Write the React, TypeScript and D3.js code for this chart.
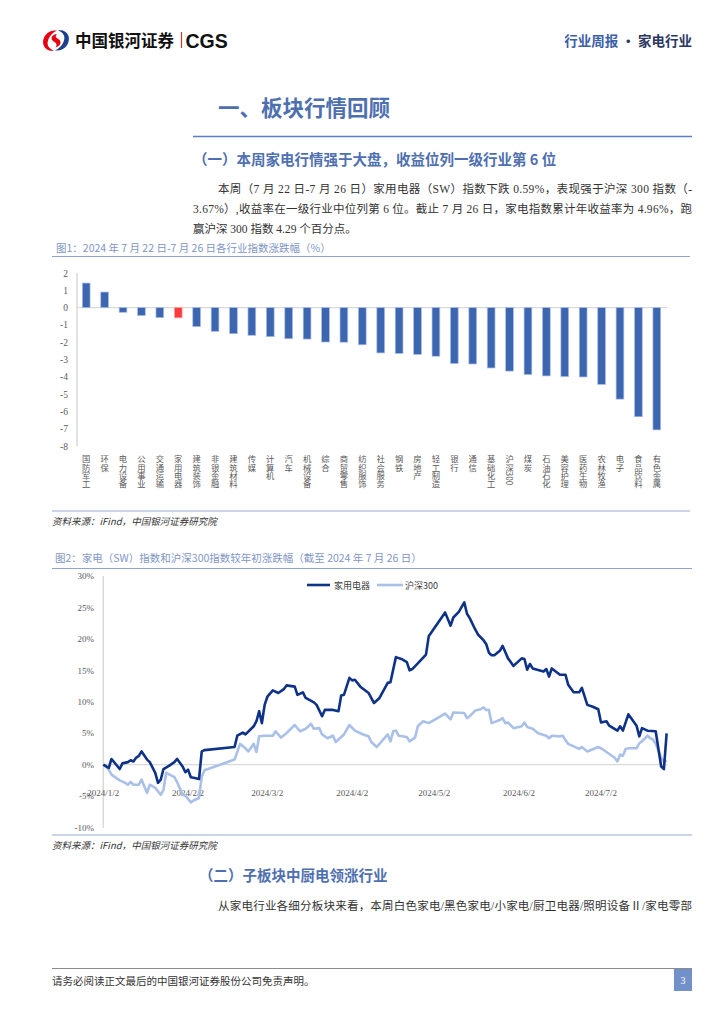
import React from "react";
import * as d3 from "d3";

// ---------- Chart 1 data ----------
const industries = [
  "国防军工", "环保", "电力设备", "公用事业", "交通运输", "家用电器", "建筑装饰", "非银金融",
  "建筑材料", "传媒", "计算机", "汽车", "机械设备", "综合", "商贸零售", "纺织服饰",
  "社会服务", "钢铁", "房地产", "轻工制造", "银行", "通信", "基础化工", "沪深300",
  "煤炭", "石油石化", "美容护理", "医药生物", "农林牧渔", "电子", "食品饮料", "有色金属",
];
const weeklyChange = [
  1.42, 0.9, -0.27, -0.46, -0.58, -0.59, -1.1, -1.37,
  -1.51, -1.6, -1.68, -1.8, -1.82, -1.99, -2.0, -2.15,
  -2.62, -2.65, -2.71, -2.81, -3.23, -3.26, -3.49, -3.67,
  -3.87, -3.95, -3.99, -4.01, -4.44, -5.29, -6.31, -7.07,
];
const highlight = "家用电器";
const yTicks1 = [2, 1, 0, -1, -2, -3, -4, -5, -6, -7, -8];

// ---------- Chart 2 data ----------
const jdDates = [
  "2024-01-02", "2024-01-04", "2024-01-05", "2024-01-08", "2024-01-09", "2024-01-11", "2024-01-12", "2024-01-13",
  "2024-01-14", "2024-01-15", "2024-01-16", "2024-01-18", "2024-01-19", "2024-01-21", "2024-01-22", "2024-01-23",
  "2024-01-24", "2024-01-26", "2024-01-28", "2024-01-29", "2024-01-31", "2024-02-01", "2024-02-02", "2024-02-03",
  "2024-02-04", "2024-02-06", "2024-02-07", "2024-02-08", "2024-02-19", "2024-02-20", "2024-02-22", "2024-02-23",
  "2024-02-26", "2024-02-27", "2024-02-28", "2024-02-29", "2024-03-01", "2024-03-02", "2024-03-04", "2024-03-06",
  "2024-03-08", "2024-03-09", "2024-03-12", "2024-03-13", "2024-03-15", "2024-03-16", "2024-03-19", "2024-03-20",
  "2024-03-22", "2024-03-23", "2024-03-26", "2024-03-28", "2024-03-29", "2024-03-30", "2024-04-01", "2024-04-02",
  "2024-04-03", "2024-04-05", "2024-04-08", "2024-04-10", "2024-04-12", "2024-04-15", "2024-04-16", "2024-04-18",
  "2024-04-20", "2024-04-22", "2024-04-23", "2024-04-24", "2024-04-26", "2024-04-29", "2024-04-30", "2024-05-06",
  "2024-05-08", "2024-05-09", "2024-05-11", "2024-05-13", "2024-05-14", "2024-05-15", "2024-05-17", "2024-05-18",
  "2024-05-20", "2024-05-21", "2024-05-22", "2024-05-23", "2024-05-24", "2024-05-26", "2024-05-27", "2024-05-29",
  "2024-05-31", "2024-06-03", "2024-06-04", "2024-06-05", "2024-06-06", "2024-06-07", "2024-06-11", "2024-06-12",
  "2024-06-13", "2024-06-14", "2024-06-17", "2024-06-19", "2024-06-20", "2024-06-22", "2024-06-24", "2024-06-25",
  "2024-06-27", "2024-06-29", "2024-07-01", "2024-07-02", "2024-07-04", "2024-07-05", "2024-07-08", "2024-07-09",
  "2024-07-10", "2024-07-12", "2024-07-15", "2024-07-16", "2024-07-17", "2024-07-19", "2024-07-22", "2024-07-24",
  "2024-07-25", "2024-07-26",
];
const jdValues = [
  0, -0.5, 0.9, -0.7, 0.2, 0.4, 0.7, 0.5,
  1.1, 1.4, 2.1, 0.8, 0.4, -1.3, -2.9, -2.4,
  -0.7, -0.2, 0.4, 0.9, -0.3, -1.2, -0.8, -2.0,
  -2.1, -2.3, 2.1, 2.3, 2.8, 4.6, 5.1, 4.8,
  6.1, 6.9, 8.5, 6.6, 9.5, 10.8, 11.8, 11.4,
  12.0, 12.6, 12.4, 11.1, 11.5, 10.6, 9.9, 9.5,
  7.7, 8.7, 8.7, 8.5, 11.0, 11.1, 13.8, 13.4,
  13.5, 12.4, 11.4, 9.8, 10.6, 13.0, 13.1, 17.1,
  16.8, 16.3, 15.0, 15.2, 16.1, 17.5, 20.4, 24.2,
  22.1, 23.4, 24.3, 25.8, 24.0, 23.3, 21.5, 20.7,
  19.8, 19.2, 17.8, 17.4, 17.4, 18.1, 18.9, 16.9,
  15.7, 16.9, 16.8, 15.1, 16.0, 15.3, 14.8, 15.2,
  14.0, 15.3, 14.3, 14.3, 12.7, 11.5, 11.5, 12.2,
  9.5, 9.2, 8.8, 6.7, 6.9, 6.2, 5.4, 6.1,
  5.4, 8.0, 6.2, 4.5, 5.8, 5.4, 5.3, -0.3,
  -0.7, 4.96,
];
const hsDates = [
  "2024-01-02", "2024-01-04", "2024-01-05", "2024-01-08", "2024-01-10", "2024-01-11", "2024-01-12", "2024-01-13",
  "2024-01-15", "2024-01-16", "2024-01-18", "2024-01-19", "2024-01-21", "2024-01-23", "2024-01-24", "2024-01-25",
  "2024-01-28", "2024-01-29", "2024-01-31", "2024-02-01", "2024-02-03", "2024-02-04", "2024-02-06", "2024-02-07",
  "2024-02-08", "2024-02-19", "2024-02-21", "2024-02-23", "2024-02-24", "2024-02-26", "2024-02-27", "2024-02-28",
  "2024-03-01", "2024-03-04", "2024-03-05", "2024-03-07", "2024-03-09", "2024-03-12", "2024-03-14", "2024-03-16",
  "2024-03-18", "2024-03-19", "2024-03-21", "2024-03-22", "2024-03-24", "2024-03-26", "2024-03-27", "2024-03-30",
  "2024-04-01", "2024-04-03", "2024-04-06", "2024-04-08", "2024-04-09", "2024-04-11", "2024-04-15", "2024-04-16",
  "2024-04-17", "2024-04-18", "2024-04-19", "2024-04-22", "2024-04-23", "2024-04-25", "2024-04-26", "2024-04-28",
  "2024-04-30", "2024-05-06", "2024-05-08", "2024-05-09", "2024-05-13", "2024-05-14", "2024-05-15", "2024-05-17",
  "2024-05-19", "2024-05-20", "2024-05-21", "2024-05-22", "2024-05-23", "2024-05-26", "2024-05-27", "2024-05-28",
  "2024-05-29", "2024-05-31", "2024-06-03", "2024-06-04", "2024-06-05", "2024-06-07", "2024-06-09", "2024-06-12",
  "2024-06-13", "2024-06-14", "2024-06-17", "2024-06-18", "2024-06-19", "2024-06-20", "2024-06-24", "2024-06-25",
  "2024-06-27", "2024-07-01", "2024-07-02", "2024-07-04", "2024-07-07", "2024-07-08", "2024-07-09", "2024-07-10",
  "2024-07-11", "2024-07-12", "2024-07-15", "2024-07-16", "2024-07-17", "2024-07-19", "2024-07-20", "2024-07-21",
  "2024-07-22", "2024-07-24", "2024-07-25", "2024-07-26",
];
const hsValues = [
  0, -0.8, -1.6, -2.5, -2.9, -3.2, -2.75, -3.2,
  -3.2, -2.4, -4.5, -3.2, -3.7, -4.8, -4.0, -1.3,
  -2.0, -2.8, -4.8, -4.9, -6.0, -5.7, -5.3, -1.9,
  -0.9, 0.8, 3.3, 2.6, 2.1, 3.3, 2.0, 4.5,
  4.6, 4.6, 5.3, 4.3, 5.0, 6.3, 5.3, 5.7,
  6.5, 5.7, 5.8, 4.8, 4.2, 4.6, 3.6, 4.8,
  6.3, 5.4, 4.8, 4.5, 3.6, 2.8, 4.8, 3.7,
  5.3, 5.4, 4.6, 4.4, 3.7, 4.3, 6.1, 6.9,
  6.6, 8.1, 7.2, 8.3, 8.2, 7.4, 7.7, 8.6,
  8.8, 9.1, 8.7, 8.7, 6.6, 7.1, 7.4, 6.6,
  6.7, 5.8, 6.1, 6.7, 6.0, 5.7, 5.0, 4.6,
  4.2, 4.6, 4.5, 4.6, 3.9, 3.3, 2.5, 2.8,
  2.1, 2.8, 2.6, 2.0, 1.1, 0.5, 1.6, 1.4,
  2.5, 2.6, 2.6, 3.4, 3.7, 4.6, 4.2, 4.0,
  3.3, 1.1, 0.4, 0.67,
];
const seriesNames = ["家用电器", "沪深300"];
const yTicks2 = [30, 25, 20, 15, 10, 5, 0, -5, -10];
const xTickDates = ["2024-01-02", "2024-02-02", "2024-03-02", "2024-04-02", "2024-05-02", "2024-06-02", "2024-07-02"];
const xTickLabels = ["2024/1/2", "2024/2/2", "2024/3/2", "2024/4/2", "2024/5/2", "2024/6/2", "2024/7/2"];

// ---------- Text ----------
const bodyLines = [
  "本周（7 月 22 日-7 月 26 日）家用电器（SW）指数下跌 0.59%，表现强于沪深 300 指数（-",
  "3.67%）,收益率在一级行业中位列第 6 位。截止 7 月 26 日，家电指数累计年收益率为 4.96%，跑",
  "赢沪深 300 指数 4.29 个百分点。",
];

const SERIF = "'Liberation Serif', 'Noto Sans CJK SC', serif";
const SANS = "'Noto Sans CJK SC', 'Liberation Sans', sans-serif";
const BLUE_HEAD = "#4f70b0";
const FIG_TITLE = "#7f96c6";

function BarChart() {
  const x = d3.scaleBand<string>().domain(industries).range([77, 666]).paddingInner(0.58).paddingOuter(0.29);
  const y = d3.scaleLinear().domain([-8, 2]).range([446, 273]);
  return (
    <g>
      <line x1={77} x2={77} y1={273} y2={446} stroke="#d9d9d9" strokeWidth={1.5} />
      <line x1={77} x2={667} y1={y(0)} y2={y(0)} stroke="#d9d9d9" strokeWidth={1.2} />
      {yTicks1.map((t) => (
        <text key={t} x={68} y={y(t) + 3.5} textAnchor="end" fontSize={9.5} fill="#595959" fontFamily={SERIF}>{t}</text>
      ))}
      {industries.map((d, i) => {
        const v = weeklyChange[i];
        const y0 = y(Math.max(0, v));
        const h = Math.abs(y(v) - y(0));
        const isHi = d === highlight;
        return (
          <rect key={d} x={x(d)!} y={y0} width={x.bandwidth()} height={h}
            fill={isHi ? "#ff3b3b" : "#3d66b1"} stroke={isHi ? "#ffa0a0" : "#a9bde4"} strokeWidth={0.7} />
        );
      })}
      {industries.map((d) => (
        <text key={d} x={x(d)! + x.bandwidth() / 2} y={455} fontSize={8.3} fill="#595959" fontFamily={SANS}
          style={{ writingMode: "vertical-rl", textOrientation: "mixed" } as React.CSSProperties}>{d}</text>
      ))}
    </g>
  );
}

function LineChart() {
  const parse = d3.timeParse("%Y-%m-%d");
  const x = d3.scaleTime().domain([parse("2024-01-02")!, parse("2024-07-02")!]).range([103.3, 601]);
  const y = d3.scaleLinear().domain([-10, 30]).range([827.5, 576]);
  const line = d3.line<[Date, number]>().x((d) => x(d[0])).y((d) => y(d[1]));
  const jd: [Date, number][] = jdDates.map((d, i) => [parse(d)!, jdValues[i]]);
  const hs: [Date, number][] = hsDates.map((d, i) => [parse(d)!, hsValues[i]]);
  const lastX = x(parse(jdDates[jdDates.length - 1])!);
  return (
    <g>
      <line x1={103.3} x2={103.3} y1={576} y2={828} stroke="#d9d9d9" strokeWidth={1.5} />
      <line x1={103.3} x2={lastX + 1} y1={y(0)} y2={y(0)} stroke="#d9d9d9" strokeWidth={1.2} />
      {yTicks2.map((t) => (
        <text key={t} x={94} y={y(t) + 3.3} textAnchor="end" fontSize={9} fill="#595959" fontFamily={SERIF}>{t}%</text>
      ))}
      {xTickDates.map((d, i) => (
        <text key={d} x={x(parse(d)!)} y={796} textAnchor="middle" fontSize={9} fill="#595959" fontFamily={SERIF}>{xTickLabels[i]}</text>
      ))}
      <path d={line(hs)!} fill="none" stroke="#a9c0e8" strokeWidth={2.6} strokeLinejoin="round" />
      <path d={line(jd)!} fill="none" stroke="#0f3289" strokeWidth={2.6} strokeLinejoin="round" />
      {/* legend */}
      <line x1={307} x2={330} y1={585} y2={585} stroke="#0f3289" strokeWidth={2.6} />
      <text x={334} y={588.5} fontSize={9} fill="#404040" fontFamily={SANS}>{seriesNames[0]}</text>
      <line x1={377} x2={403} y1={585} y2={585} stroke="#a9c0e8" strokeWidth={2.6} />
      <text x={405} y={588.5} fontSize={9} fill="#404040" fontFamily={SANS}>{seriesNames[1]}</text>
    </g>
  );
}

function Logo() {
  return (
    <g>
      <path d="M 57 30.5 C 47 29.5 41.5 38 43.5 45 C 45 49.5 50 51.5 54 50.5 C 49 49 46.5 45 48 40.5 C 49.5 35.5 53.5 32 57 30.5 Z" fill="#e60012" />
      <path d="M 55 50.5 C 65 51.5 70.5 43 68.5 36 C 67 31.5 62 29.5 58 30.5 C 63 32 65.5 36 64 40.5 C 62.5 45.5 58.5 49 55 50.5 Z" fill="#1a3f8f" />
      <path d="M 57 34 C 52 34.5 50 38.5 53 41 C 56 43 58 44 55.5 47.5 C 60.5 46 62 42 59 39.5 C 56 37.5 54.5 36.5 57 34 Z" fill="#e60012" />
      <text x={75} y={46.5} fontSize={16.5} fontWeight={700} fill="#111" fontFamily={SANS}>中国银河证券</text>
      <line x1={181.5} x2={181.5} y1={32} y2={48} stroke="#c0392b" strokeWidth={1.2} />
      <text x={185.5} y={47.5} fontSize={19.5} fontWeight={700} fill="#111" fontFamily="'Liberation Sans', Arial, sans-serif">CGS</text>
    </g>
  );
}

export default function App() {
  return (
    <svg width={724} height={1024} viewBox="0 0 724 1024"
      style={{ position: "absolute", left: 0, top: 0, background: "#fff" }}>
      <rect x={0} y={0} width={724} height={1024} fill="#fff" />
      <Logo />
      <text x={692} y={46} textAnchor="end" fontSize={13.5} fontWeight={700} fontFamily={SANS}>
        <tspan fill="#3b5ea8">行业周报</tspan>
        <tspan fill="#2a3560"> · 家电行业</tspan>
      </text>

      <text x={218} y={116} fontSize={21.5} fontWeight={700} fill={BLUE_HEAD} fontFamily={SANS}>一、板块行情回顾</text>
      <line x1={193} x2={692} y1={136.5} y2={136.5} stroke="#5b7ec2" strokeWidth={1.6} />
      <text x={193} y={164.5} fontSize={14.5} fontWeight={700} fill={BLUE_HEAD} fontFamily={SANS}>（一）本周家电行情强于大盘，收益位列一级行业第 6 位</text>

      <text x={218} y={192.5} fontSize={11.5} fill="#333" fontFamily={SERIF} textLength={474} lengthAdjust="spacing">{bodyLines[0]}</text>
      <text x={193} y={213} fontSize={11.5} fill="#333" fontFamily={SERIF} textLength={499} lengthAdjust="spacing">{bodyLines[1]}</text>
      <text x={193} y={233} fontSize={11.5} fill="#333" fontFamily={SERIF}>{bodyLines[2]}</text>

      <text x={56} y={252} fontSize={10.5} fill={FIG_TITLE} fontFamily={SANS}>图1：2024 年 7 月 22 日-7 月 26 日各行业指数涨跌幅（%）</text>
      <line x1={52} x2={690} y1={256.5} y2={256.5} stroke="#8ea6d3" strokeWidth={1.2} />
      <BarChart />
      <line x1={52} x2={690} y1={511} y2={511} stroke="#b7c6e2" strokeWidth={1.5} />
      <text x={52} y={525} fontSize={9.5} fill="#333" fontStyle="italic" fontFamily={SANS}>资料来源：iFind，中国银河证券研究院</text>

      <text x={55} y={562} fontSize={10.5} fill={FIG_TITLE} fontFamily={SANS}>图2：家电（SW）指数和沪深300指数较年初涨跌幅（截至 2024 年 7 月 26 日）</text>
      <line x1={52} x2={692} y1={568.5} y2={568.5} stroke="#8ea6d3" strokeWidth={1.2} />
      <LineChart />
      <line x1={52} x2={692} y1={835} y2={835} stroke="#b7c6e2" strokeWidth={1.5} />
      <text x={52} y={849} fontSize={9.5} fill="#333" fontStyle="italic" fontFamily={SANS}>资料来源：iFind，中国银河证券研究院</text>

      <text x={199} y={881} fontSize={14.5} fontWeight={700} fill={BLUE_HEAD} fontFamily={SANS}>（二）子板块中厨电领涨行业</text>
      <text x={218} y={910} fontSize={11.5} fill="#333" fontFamily={SERIF} textLength={474} lengthAdjust="spacing">从家电行业各细分板块来看，本周白色家电/黑色家电/小家电/厨卫电器/照明设备Ⅱ/家电零部</text>

      <line x1={52} x2={692} y1={968.5} y2={968.5} stroke="#8c8c8c" strokeWidth={1} />
      <text x={52} y={985} fontSize={10.5} fill="#333" fontFamily={SANS}>请务必阅读正文最后的中国银河证券股份公司免责声明。</text>
      <rect x={674} y={969} width={18} height={22} fill="#7391c9" />
      <text x={683} y={984} textAnchor="middle" fontSize={10} fill="#fff" fontFamily={SERIF}>3</text>
    </svg>
  );
}
